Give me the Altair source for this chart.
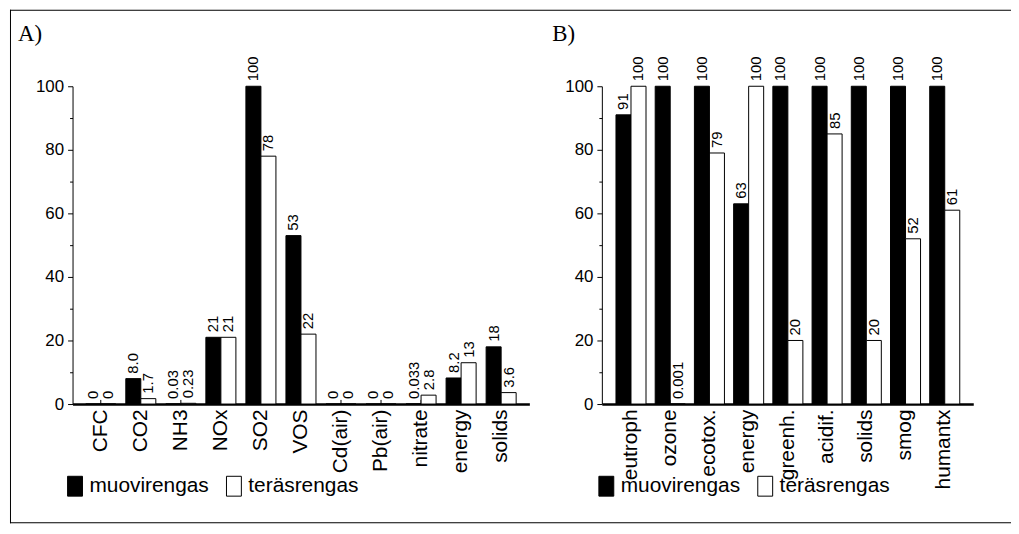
import altair as alt
import pandas as pd

SERIES = ["muovirengas", "teräsrengas"]

cats_a = ["CFC", "CO2", "NH3", "NOx", "SO2", "VOS", "Cd(air)", "Pb(air)", "nitrate", "energy", "solids"]
muovi_a = [0, 8.0, 0.03, 21, 100, 53, 0, 0, 0.033, 8.2, 18]
teras_a = [0, 1.7, 0.23, 21, 78, 22, 0, 0, 2.8, 13, 3.6]

cats_b = ["eutroph", "ozone", "ecotox.", "energy", "greenh.", "acidif.", "solids", "smog", "humantx"]
muovi_b = [91, 100, 100, 63, 100, 100, 100, 100, 100]
teras_b = [100, 0.001, 79, 100, 20, 85, 20, 52, 61]

y_major = [0, 20, 40, 60, 80, 100]
y_minor = [10, 30, 50, 70, 90]

FONT = "Liberation Sans"
SERIF = "Liberation Serif"
PATH = "M-0.75,-1H0.75V1H-0.75Z"


def make_df(cats, s1, s2):
    rows = []
    for c, a, b in zip(cats, s1, s2):
        rows.append({"cat": c, "series": SERIES[0], "value": a, "label": str(a)})
        rows.append({"cat": c, "series": SERIES[1], "value": b, "label": str(b)})
    return pd.DataFrame(rows)


def panel(cats, s1, s2, width, height, pad_outer, letter, letter_dx, legend_x, frame=False):
    df = make_df(cats, s1, s2)
    yscale = alt.Scale(domain=[0, 100], nice=False)
    x = alt.X("cat:N", sort=cats, title=None,
              scale=alt.Scale(paddingInner=0.25, paddingOuter=pad_outer),
              axis=alt.Axis(labelAngle=270, labelAlign="right", labelBaseline="middle",
                            labelFontSize=21, labelPadding=5, ticks=False,
                            domainWidth=2.5, domainColor="black", labelColor="black",
                            labelFont=FONT, grid=False))
    xo = alt.XOffset("series:N", sort=SERIES, scale=alt.Scale(paddingInner=0, paddingOuter=0))
    y = alt.Y("value:Q", title=None, scale=yscale,
              axis=alt.Axis(values=y_major, tickSize=5, tickColor="black", domainColor="black",
                            labelColor="black", labelFont=FONT, labelFontSize=17,
                            labelPadding=4, grid=False, orient="left"))
    base = alt.Chart(df)
    bars = base.mark_bar(stroke="black", strokeWidth=1).encode(
        x=x, xOffset=xo, y=y,
        color=alt.Color("series:N",
                        scale=alt.Scale(domain=SERIES, range=["black", "white"]),
                        legend=alt.Legend(title=None, orient="none", legendX=legend_x, legendY=392,
                                          direction="horizontal", symbolType=PATH, symbolSize=400,
                                          symbolStrokeColor="black", symbolStrokeWidth=1,
                                          symbolOpacity=1, labelFontSize=21, labelFont=FONT,
                                          labelColor="black", labelOffset=4, columnPadding=14)))
    text = base.mark_text(angle=270, align="left", baseline="middle", dx=5, fontSize=15,
                          font=FONT, color="black").encode(
        x=x, xOffset=xo,
        y=alt.Y("value:Q", scale=yscale, axis=None),
        text="label:N")
    tdf = pd.DataFrame({"cat": cats, "zero": [0] * len(cats), "top": [1.3] * len(cats)})
    ticks = alt.Chart(tdf).mark_rule(color="black", strokeWidth=1).encode(
        x=x,
        y=alt.Y("zero:Q", scale=yscale, title=None,
                axis=alt.Axis(values=y_minor, labels=False, domain=False, tickSize=3,
                              tickColor="black", grid=False, orient="left")),
        y2="top:Q")
    one = alt.Chart(pd.DataFrame({"k": [0]}))
    lt = one.mark_text(font=SERIF, fontSize=23, align="left", baseline="alphabetic",
                       color="black").encode(x=alt.value(letter_dx), y=alt.value(-46),
                                             text=alt.value(letter))
    layers = [ticks, bars, text, lt]
    if frame:
        # page frame: left, top and bottom edges as thin filled rects
        for (x1, x2, y1, y2) in [(-63, -62, -77, 440), (-63, 945, -77, -76), (-63, 945, 439, 440)]:
            layers.append(one.mark_rect(color="black").encode(
                x=alt.value(x1), x2=alt.value(x2), y=alt.value(y1), y2=alt.value(y2)))
    return alt.layer(*layers).resolve_axis(y="independent").properties(width=width, height=height)


pa = panel(cats_a, muovi_a, teras_a, 460, 320, 0.33, "A)", -55, -8, frame=True)
pb = panel(cats_b, muovi_b, teras_b, 374, 320, 0.36, "B)", -50, -6)

chart = alt.hconcat(pa, pb, spacing=73, bounds="flush").resolve_scale(
    color="independent", x="independent", y="independent"
).configure_view(stroke=None).properties(
    padding={"left": 2, "top": 0, "right": 0, "bottom": 0}
)

chart.save("out.html", embed_options={"renderer": "svg", "actions": False})
